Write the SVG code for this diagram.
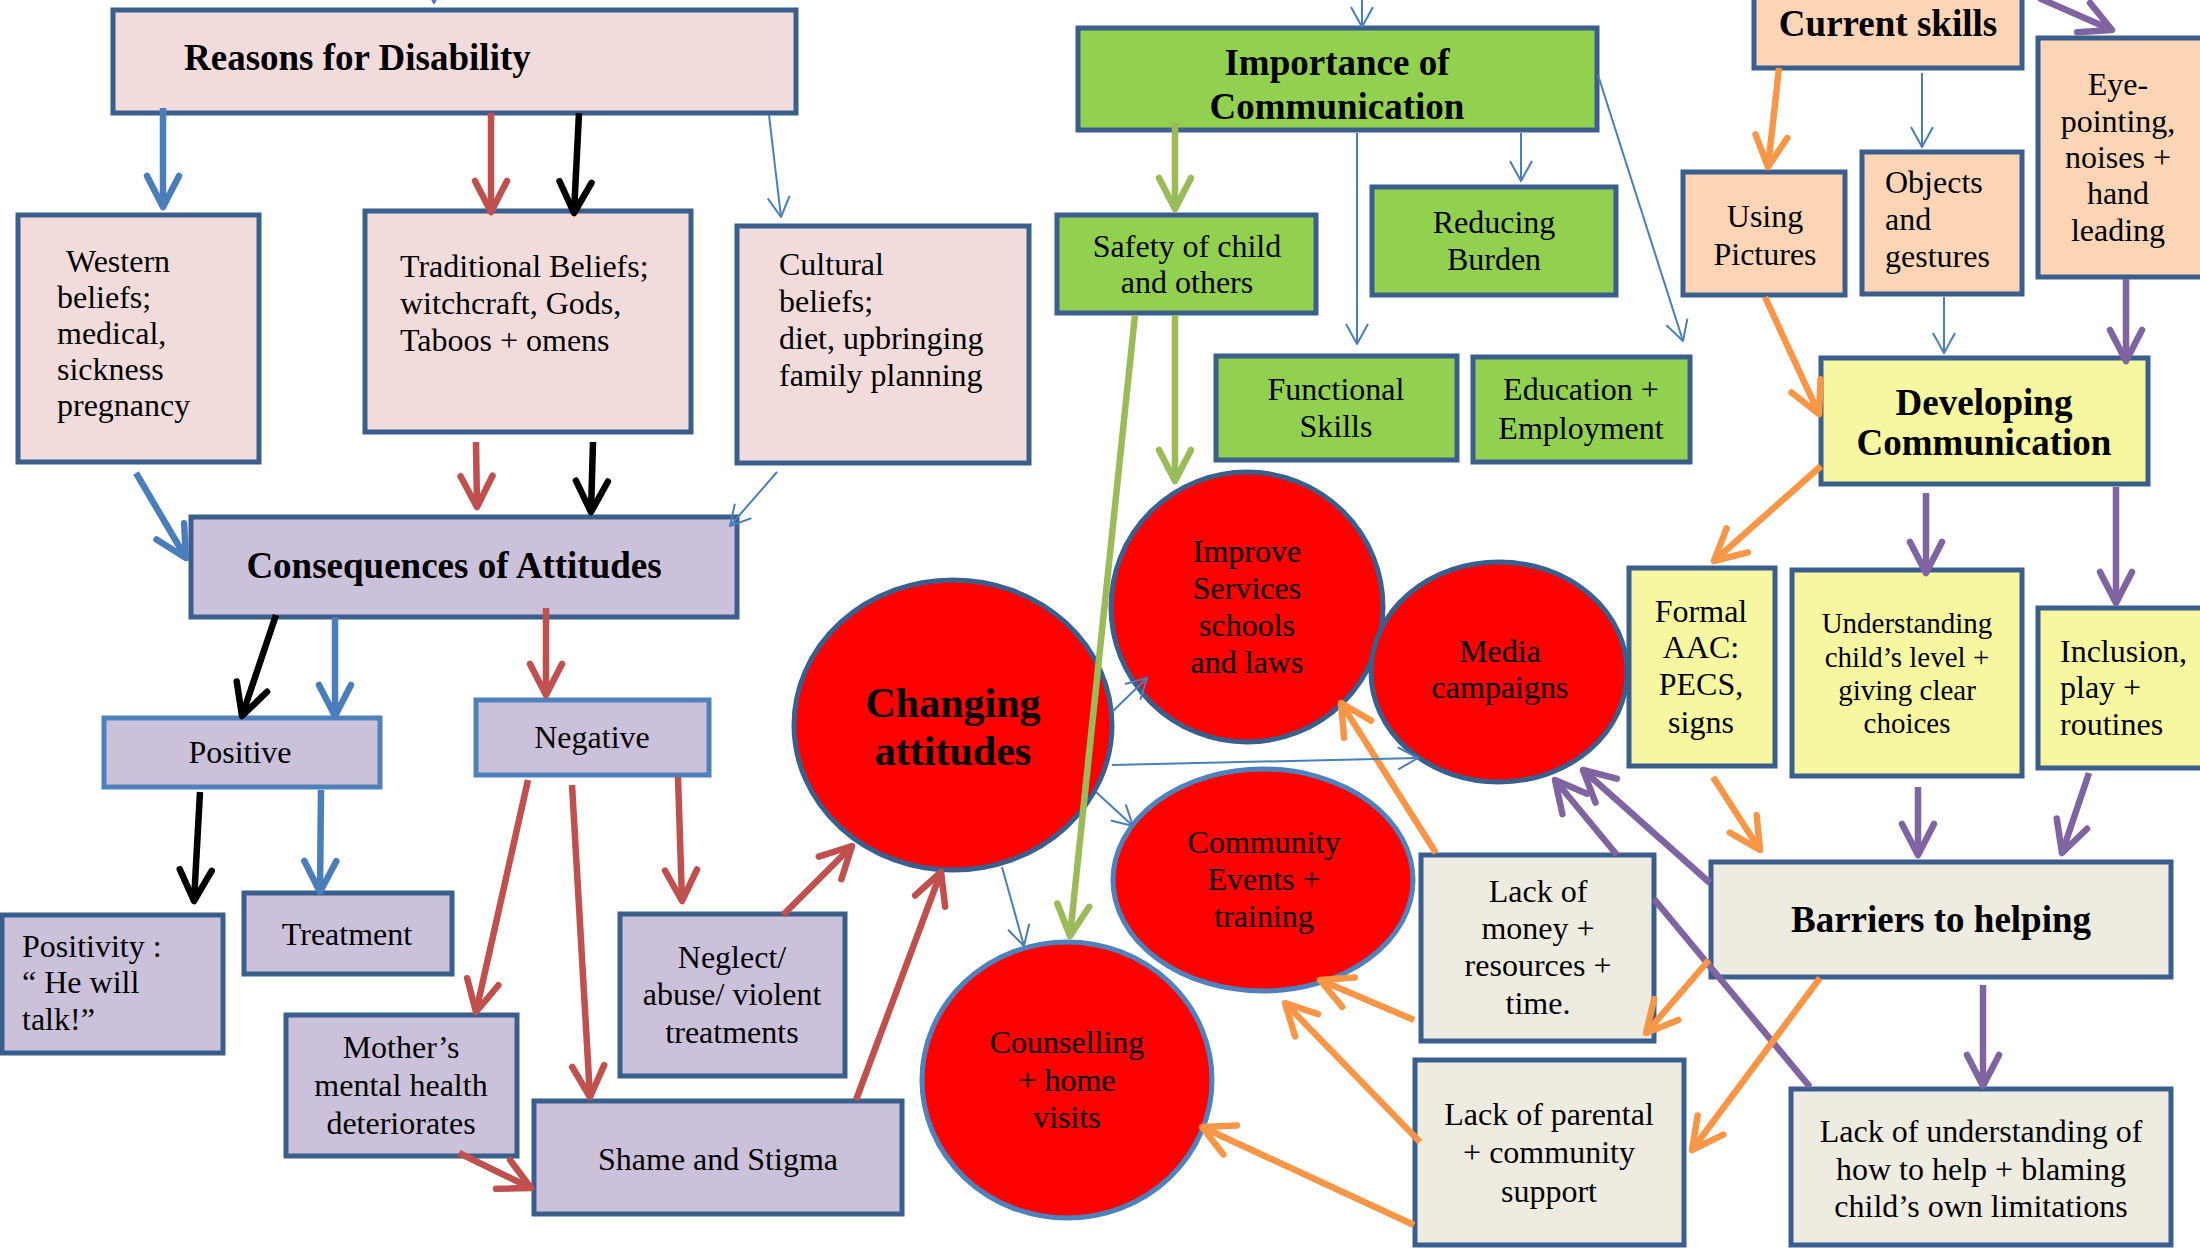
<svg xmlns="http://www.w3.org/2000/svg" width="2200" height="1248" viewBox="0 0 2200 1248">
  <style>
    .bx { stroke: #3B5F8C; stroke-width: 5; }
    .lt { stroke: #4F81BD; }
    .pink { fill: #F2DCDB; }
    .green { fill: #92D050; }
    .peach { fill: #FBD5B5; }
    .yellow { fill: #F7F7A1; }
    .lav { fill: #CCC1DA; }
    .beige { fill: #EEECE1; }
    .red { fill: #FF0000; }
    text { font-family: "Liberation Serif", "Times New Roman", serif; font-size: 32px; fill: #000; }
    .b { font-weight: bold; font-size: 37px; }
    .big { font-weight: bold; font-size: 42px; }
    .sm { font-size: 29px; }
    .c { text-anchor: middle; }
    .k { fill: none; stroke-width: 6.5; stroke-linecap: butt; }
    .n { fill: none; stroke-width: 2; }
    .cb { stroke: #4A7EBB; }
    .cr { stroke: #C0504D; }
    .ck { stroke: #000000; }
    .cg { stroke: #9BBB59; }
    .co { stroke: #F79646; }
    .cp { stroke: #8064A2; }
  </style>
  <defs>
    <marker id="hB" viewBox="-40 -20 44 40" refX="0" refY="0" markerWidth="44" markerHeight="40" markerUnits="userSpaceOnUse" orient="auto">
      <path d="M-31,-16 L0,0 L-31,16" fill="none" stroke="#4A7EBB" stroke-width="6.5" stroke-linecap="round" stroke-linejoin="round"/>
    </marker>
    <marker id="hR" viewBox="-40 -20 44 40" refX="0" refY="0" markerWidth="44" markerHeight="40" markerUnits="userSpaceOnUse" orient="auto">
      <path d="M-31,-16 L0,0 L-31,16" fill="none" stroke="#C0504D" stroke-width="6.5" stroke-linecap="round" stroke-linejoin="round"/>
    </marker>
    <marker id="hK" viewBox="-40 -20 44 40" refX="0" refY="0" markerWidth="44" markerHeight="40" markerUnits="userSpaceOnUse" orient="auto">
      <path d="M-31,-16 L0,0 L-31,16" fill="none" stroke="#000000" stroke-width="6.5" stroke-linecap="round" stroke-linejoin="round"/>
    </marker>
    <marker id="hG" viewBox="-40 -20 44 40" refX="0" refY="0" markerWidth="44" markerHeight="40" markerUnits="userSpaceOnUse" orient="auto">
      <path d="M-31,-16 L0,0 L-31,16" fill="none" stroke="#9BBB59" stroke-width="6.5" stroke-linecap="round" stroke-linejoin="round"/>
    </marker>
    <marker id="hO" viewBox="-40 -20 44 40" refX="0" refY="0" markerWidth="44" markerHeight="40" markerUnits="userSpaceOnUse" orient="auto">
      <path d="M-31,-16 L0,0 L-31,16" fill="none" stroke="#F79646" stroke-width="6.5" stroke-linecap="round" stroke-linejoin="round"/>
    </marker>
    <marker id="hP" viewBox="-40 -20 44 40" refX="0" refY="0" markerWidth="44" markerHeight="40" markerUnits="userSpaceOnUse" orient="auto">
      <path d="M-31,-16 L0,0 L-31,16" fill="none" stroke="#8064A2" stroke-width="6.5" stroke-linecap="round" stroke-linejoin="round"/>
    </marker>
    <marker id="hb" viewBox="-24 -14 28 28" refX="0" refY="0" markerWidth="28" markerHeight="28" markerUnits="userSpaceOnUse" orient="auto">
      <path d="M-20,-11 L0,0 L-20,11" fill="none" stroke="#4A7EBB" stroke-width="2" stroke-linejoin="round"/>
    </marker>
    <clipPath id="impClip">
      <rect x="1078" y="28" width="519" height="92"/>
    </clipPath>
  </defs>

  <rect width="2200" height="1248" fill="#FFFFFF"/>

  <!-- Reasons and beliefs -->
  <g id="reasons">
    <rect class="bx pink" x="113" y="10" width="683" height="103"/>
    <text class="b" x="184" y="70">Reasons for Disability</text>
  </g>
  <g id="western">
    <rect class="bx pink" x="18" y="215" width="241" height="247"/>
    <text x="66" y="272">Western</text>
    <text x="57" y="308">beliefs;</text>
    <text x="57" y="344">medical,</text>
    <text x="57" y="380">sickness</text>
    <text x="57" y="416">pregnancy</text>
  </g>
  <g id="traditional">
    <rect class="bx pink" x="365" y="211" width="326" height="221"/>
    <text x="400" y="277">Traditional Beliefs;</text>
    <text x="400" y="314">witchcraft, Gods,</text>
    <text x="400" y="351">Taboos + omens</text>
  </g>
  <g id="cultural">
    <rect class="bx pink" x="737" y="226" width="292" height="237"/>
    <text x="779" y="275">Cultural</text>
    <text x="779" y="312">beliefs;</text>
    <text x="779" y="349">diet, upbringing</text>
    <text x="779" y="386">family planning</text>
  </g>

  <!-- Consequences -->
  <g id="consequences">
    <rect class="bx lav" x="191" y="517" width="546" height="100"/>
    <text class="b c" x="454" y="578">Consequences of Attitudes</text>
  </g>
  <g id="positive">
    <rect class="bx lt lav" x="104" y="718" width="276" height="69"/>
    <text class="c" x="240" y="763">Positive</text>
  </g>
  <g id="negative">
    <rect class="bx lt lav" x="476" y="700" width="233" height="75"/>
    <text class="c" x="592" y="748">Negative</text>
  </g>
  <g id="positivity">
    <rect class="bx lav" x="2" y="915" width="221" height="138"/>
    <text x="22" y="957">Positivity :</text>
    <text x="22" y="993">“ He will</text>
    <text x="22" y="1030">talk!”</text>
  </g>
  <g id="treatment">
    <rect class="bx lav" x="244" y="893" width="208" height="81"/>
    <text class="c" x="347" y="945">Treatment</text>
  </g>
  <g id="mother">
    <rect class="bx lav" x="286" y="1015" width="231" height="141"/>
    <text class="c" x="401" y="1058">Mother’s</text>
    <text class="c" x="401" y="1096">mental health</text>
    <text class="c" x="401" y="1134">deteriorates</text>
  </g>
  <g id="neglect">
    <rect class="bx lav" x="620" y="914" width="225" height="162"/>
    <text class="c" x="732" y="968">Neglect/</text>
    <text class="c" x="732" y="1005">abuse/ violent</text>
    <text class="c" x="732" y="1043">treatments</text>
  </g>
  <g id="shame">
    <rect class="bx lav" x="534" y="1101" width="368" height="113"/>
    <text class="c" x="718" y="1170">Shame and Stigma</text>
  </g>

  <!-- Communication -->
  <g id="importance">
    <rect class="bx green" x="1078" y="28" width="519" height="102"/>
    <g clip-path="url(#impClip)">
      <text class="b c" x="1337" y="75">Importance of</text>
      <text class="b c" x="1337" y="119">Communication</text>
    </g>
  </g>
  <g id="safety">
    <rect class="bx green" x="1057" y="215" width="259" height="98"/>
    <text class="c" x="1187" y="257">Safety of child</text>
    <text class="c" x="1187" y="293">and others</text>
  </g>
  <g id="reducing">
    <rect class="bx green" x="1372" y="187" width="244" height="108"/>
    <text class="c" x="1494" y="233">Reducing</text>
    <text class="c" x="1494" y="270">Burden</text>
  </g>
  <g id="functional">
    <rect class="bx green" x="1216" y="356" width="241" height="104"/>
    <text class="c" x="1336" y="400">Functional</text>
    <text class="c" x="1336" y="437">Skills</text>
  </g>
  <g id="education">
    <rect class="bx green" x="1473" y="357" width="217" height="105"/>
    <text class="c" x="1581" y="400">Education +</text>
    <text class="c" x="1581" y="439">Employment</text>
  </g>

  <!-- Skills -->
  <g id="current">
    <rect class="bx peach" x="1754" y="-3" width="268" height="71"/>
    <text class="b c" x="1888" y="36">Current skills</text>
  </g>
  <g id="pictures">
    <rect class="bx peach" x="1683" y="172" width="162" height="123"/>
    <text class="c" x="1765" y="227">Using</text>
    <text class="c" x="1765" y="265">Pictures</text>
  </g>
  <g id="objects">
    <rect class="bx peach" x="1862" y="152" width="160" height="142"/>
    <text x="1885" y="193">Objects</text>
    <text x="1885" y="230">and</text>
    <text x="1885" y="267">gestures</text>
  </g>
  <g id="eyepointing">
    <rect class="bx peach" x="2038" y="38" width="180" height="239"/>
    <text class="c" x="2118" y="95">Eye-</text>
    <text class="c" x="2118" y="132">pointing,</text>
    <text class="c" x="2118" y="168">noises +</text>
    <text class="c" x="2118" y="204">hand</text>
    <text class="c" x="2118" y="241">leading</text>
  </g>
  <g id="developing">
    <rect class="bx yellow" x="1821" y="358" width="327" height="126"/>
    <text class="b c" x="1984" y="415">Developing</text>
    <text class="b c" x="1984" y="455">Communication</text>
  </g>
  <g id="formal">
    <rect class="bx yellow" x="1629" y="568" width="146" height="198"/>
    <text class="c" x="1701" y="622">Formal</text>
    <text class="c" x="1701" y="658">AAC:</text>
    <text class="c" x="1701" y="695">PECS,</text>
    <text class="c" x="1701" y="733">signs</text>
  </g>
  <g id="understanding">
    <rect class="bx yellow" x="1792" y="570" width="230" height="206"/>
    <text class="c sm" x="1907" y="633">Understanding</text>
    <text class="c sm" x="1907" y="667">child’s level +</text>
    <text class="c sm" x="1907" y="700">giving clear</text>
    <text class="c sm" x="1907" y="733">choices</text>
  </g>
  <g id="inclusion">
    <rect class="bx yellow" x="2038" y="608" width="180" height="160"/>
    <text x="2060" y="662">Inclusion,</text>
    <text x="2060" y="698">play +</text>
    <text x="2060" y="735">routines</text>
  </g>

  <!-- Barriers -->
  <g id="barriers">
    <rect class="bx beige" x="1711" y="862" width="460" height="115"/>
    <text class="b c" x="1941" y="932">Barriers to helping</text>
  </g>
  <g id="understandingLack">
    <rect class="bx beige" x="1791" y="1089" width="380" height="156"/>
    <text class="c" x="1981" y="1142">Lack of understanding of</text>
    <text class="c" x="1981" y="1180">how to help + blaming</text>
    <text class="c" x="1981" y="1217">child’s own limitations</text>
  </g>
  <g id="money">
    <rect class="bx beige" x="1421" y="855" width="233" height="186"/>
    <text class="c" x="1538" y="902">Lack of</text>
    <text class="c" x="1538" y="939">money +</text>
    <text class="c" x="1538" y="976">resources +</text>
    <text class="c" x="1538" y="1014">time.</text>
  </g>
  <g id="parental">
    <rect class="bx beige" x="1415" y="1060" width="269" height="185"/>
    <text class="c" x="1549" y="1125">Lack of parental</text>
    <text class="c" x="1549" y="1163">+ community</text>
    <text class="c" x="1549" y="1202">support</text>
  </g>

  <!-- Ways of changing attitudes -->
  <g id="changing">
    <ellipse class="bx red" cx="953" cy="725" rx="159" ry="145"/>
    <text class="big c" x="953" y="717">Changing</text>
    <text class="big c" x="953" y="765">attitudes</text>
  </g>
  <g id="improve">
    <ellipse class="bx red" cx="1247" cy="607" rx="136" ry="135"/>
    <text class="c" x="1247" y="562">Improve</text>
    <text class="c" x="1247" y="599">Services</text>
    <text class="c" x="1247" y="636">schools</text>
    <text class="c" x="1247" y="673">and laws</text>
  </g>
  <g id="media">
    <ellipse class="bx red" cx="1499" cy="672" rx="128" ry="110"/>
    <text class="c" x="1500" y="662">Media</text>
    <text class="c" x="1500" y="698">campaigns</text>
  </g>
  <g id="community">
    <ellipse class="bx lt red" cx="1263" cy="880" rx="150" ry="111"/>
    <text class="c" x="1264" y="853">Community</text>
    <text class="c" x="1264" y="890">Events +</text>
    <text class="c" x="1264" y="927">training</text>
  </g>
  <g id="counselling">
    <ellipse class="bx lt red" cx="1067" cy="1080" rx="145" ry="138"/>
    <text class="c" x="1067" y="1053">Counselling</text>
    <text class="c" x="1067" y="1091">+ home</text>
    <text class="c" x="1067" y="1128">visits</text>
  </g>

  <!-- Connectors -->
  <g id="connectors">
    <!-- arrows entering from above the page -->
    <line class="n cb" x1="434" y1="-30" x2="434" y2="3" marker-end="url(#hb)"/>
    <line class="n cb" x1="1362" y1="-30" x2="1362" y2="27" marker-end="url(#hb)"/>

    <!-- reasons -->
    <line class="k cb" x1="163" y1="108" x2="163" y2="207" marker-end="url(#hB)"/>
    <line class="k cr" x1="491" y1="113" x2="491" y2="212" marker-end="url(#hR)"/>
    <line class="k ck" x1="579" y1="113" x2="574" y2="213" marker-end="url(#hK)"/>
    <line class="n cb" x1="769" y1="115" x2="781" y2="217" marker-end="url(#hb)"/>
    <line class="k cb" x1="136" y1="473" x2="186" y2="558" marker-end="url(#hB)"/>
    <line class="k cr" x1="476" y1="442" x2="477" y2="507" marker-end="url(#hR)"/>
    <line class="k ck" x1="593" y1="442" x2="591" y2="512" marker-end="url(#hK)"/>
    <line class="n cb" x1="777" y1="472" x2="730" y2="526" marker-end="url(#hb)"/>

    <!-- consequences -->
    <line class="k ck" x1="276" y1="615" x2="242" y2="716" marker-end="url(#hK)"/>
    <line class="k cb" x1="335" y1="617" x2="335" y2="716" marker-end="url(#hB)"/>
    <line class="k cr" x1="546" y1="608" x2="546" y2="695" marker-end="url(#hR)"/>
    <line class="k ck" x1="200" y1="792" x2="194" y2="901" marker-end="url(#hK)"/>
    <line class="k cb" x1="321" y1="790" x2="320" y2="892" marker-end="url(#hB)"/>
    <line class="k cr" x1="528" y1="780" x2="476" y2="1012" marker-end="url(#hR)"/>
    <line class="k cr" x1="572" y1="785" x2="590" y2="1097" marker-end="url(#hR)"/>
    <line class="k cr" x1="678" y1="777" x2="682" y2="901" marker-end="url(#hR)"/>
    <line class="k cr" x1="459" y1="1153" x2="531" y2="1188" marker-end="url(#hR)"/>
    <line class="k cr" x1="783" y1="915" x2="852" y2="846" marker-end="url(#hR)"/>
    <line class="k cr" x1="856" y1="1100" x2="941" y2="872" marker-end="url(#hR)"/>

    <!-- importance of communication -->
    <line class="k cg" x1="1175" y1="122" x2="1175" y2="209" marker-end="url(#hG)"/>
    <line class="k cg" x1="1175" y1="315" x2="1175" y2="481" marker-end="url(#hG)"/>
    <line class="k cg" x1="1135" y1="315" x2="1070" y2="936" marker-end="url(#hG)"/>
    <line class="n cb" x1="1357" y1="133" x2="1357" y2="344" marker-end="url(#hb)"/>
    <line class="n cb" x1="1521" y1="133" x2="1521" y2="181" marker-end="url(#hb)"/>
    <line class="n cb" x1="1598" y1="75" x2="1683" y2="341" marker-end="url(#hb)"/>

    <!-- current skills -->
    <line class="k co" x1="1779" y1="68" x2="1768" y2="167" marker-end="url(#hO)"/>
    <line class="n cb" x1="1922" y1="73" x2="1922" y2="147" marker-end="url(#hb)"/>
    <line class="k cp" x1="2039" y1="-2" x2="2112" y2="30" marker-end="url(#hP)"/>
    <line class="k co" x1="1765" y1="297" x2="1819" y2="414" marker-end="url(#hO)"/>
    <line class="n cb" x1="1944" y1="297" x2="1944" y2="353" marker-end="url(#hb)"/>
    <line class="k cp" x1="2126" y1="279" x2="2126" y2="361" marker-end="url(#hP)"/>

    <!-- developing communication -->
    <line class="k co" x1="1821" y1="466" x2="1714" y2="561" marker-end="url(#hO)"/>
    <line class="k cp" x1="1926" y1="493" x2="1926" y2="573" marker-end="url(#hP)"/>
    <line class="k cp" x1="2116" y1="487" x2="2116" y2="603" marker-end="url(#hP)"/>
    <line class="k co" x1="1713" y1="777" x2="1760" y2="850" marker-end="url(#hO)"/>
    <line class="k cp" x1="1918" y1="787" x2="1918" y2="855" marker-end="url(#hP)"/>
    <line class="k cp" x1="2089" y1="773" x2="2062" y2="853" marker-end="url(#hP)"/>

    <!-- barriers -->
    <line class="k cp" x1="1983" y1="985" x2="1983" y2="1086" marker-end="url(#hP)"/>
    <line class="k cp" x1="1710" y1="883" x2="1583" y2="770" marker-end="url(#hP)"/>
    <path class="k cp" d="M1810,1087 L1654,899 M1617,855 L1555,780" marker-end="url(#hP)"/>
    <line class="k co" x1="1709" y1="960" x2="1646" y2="1033" marker-end="url(#hO)"/>
    <line class="k co" x1="1820" y1="978" x2="1692" y2="1150" marker-end="url(#hO)"/>
    <line class="k co" x1="1436" y1="853" x2="1341" y2="703" marker-end="url(#hO)"/>
    <line class="k co" x1="1414" y1="1020" x2="1320" y2="980" marker-end="url(#hO)"/>
    <line class="k co" x1="1420" y1="1142" x2="1285" y2="1003" marker-end="url(#hO)"/>
    <line class="k co" x1="1414" y1="1225" x2="1202" y2="1127" marker-end="url(#hO)"/>

    <!-- changing attitudes -->
    <line class="n cb" x1="1112" y1="712" x2="1147" y2="678" marker-end="url(#hb)"/>
    <line class="n cb" x1="1112" y1="765" x2="1418" y2="758" marker-end="url(#hb)"/>
    <line class="n cb" x1="1096" y1="792" x2="1133" y2="826" marker-end="url(#hb)"/>
    <line class="n cb" x1="1002" y1="867" x2="1024" y2="946" marker-end="url(#hb)"/>
  </g>
</svg>
